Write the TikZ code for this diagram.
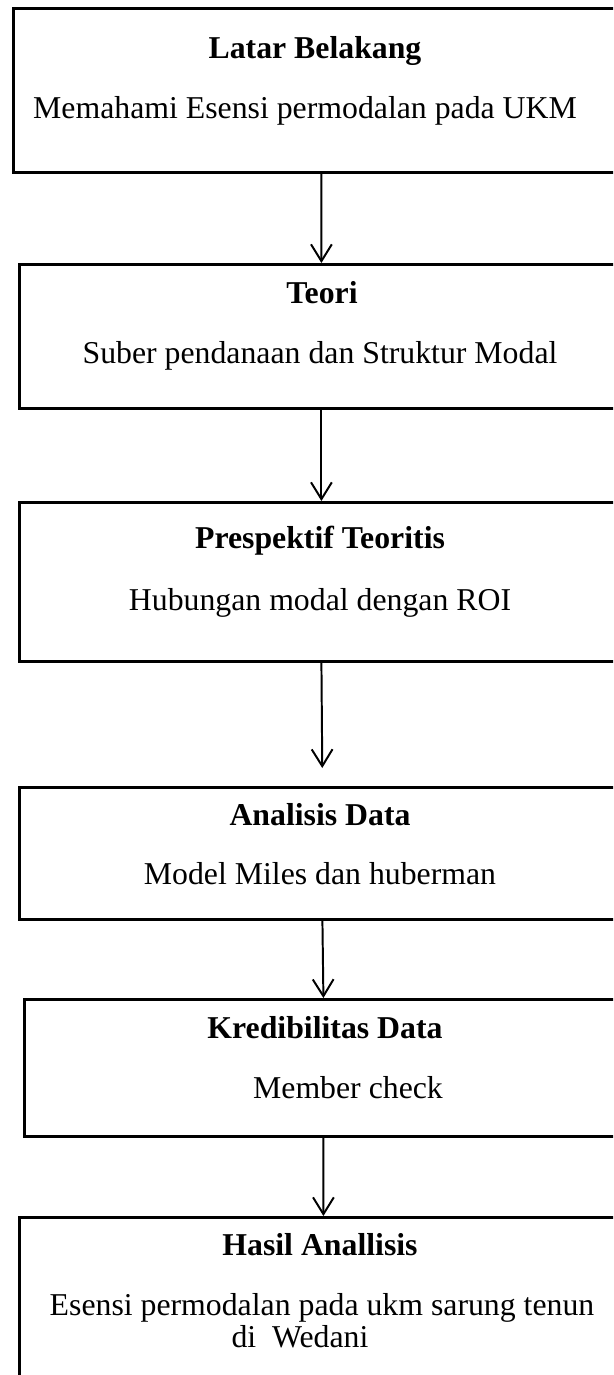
\documentclass[tikz,border=0pt]{standalone}
\usepackage{fontspec}
\setmainfont{Liberation Serif}
\usetikzlibrary{arrows.meta}

\begin{document}
\begin{tikzpicture}[x=0.025cm, y=-0.025cm,
    kotak/.style={draw, line width=1.9pt, rectangle, anchor=north west, inner sep=0pt},
    judul/.style={anchor=base, inner sep=0pt, font=\fontsize{22.6}{26}\selectfont\bfseries},
    isi/.style={anchor=base, inner sep=0pt, font=\fontsize{22.6}{26}\selectfont},
    panah/.style={-{Straight Barb[length=0.42cm, width=0.52cm]}, line width=1.4pt}]
    \useasboundingbox (0,0) rectangle (613,1375);
    \clip (0,0) rectangle (613,1375);

    \node[kotak, minimum width=15.4cm, minimum height=4.1cm] (latar) at (12,7) {};
    \node[kotak, minimum width=15.1cm, minimum height=3.6cm] (teori) at (18,263) {};
    \node[kotak, minimum width=15.1cm, minimum height=3.975cm] (presp) at (18,501) {};
    \node[kotak, minimum width=15.15cm, minimum height=3.3cm] (anal) at (18,786) {};
    \node[kotak, minimum width=14.95cm, minimum height=3.425cm] (kred) at (23,998) {};
    \node[kotak, minimum width=15.2cm, minimum height=4.35cm] (hasil) at (18,1216) {};

    \node[judul] (latarJ) at (315,58) {Latar Belakang};
    \node[isi] (latarI) at (305,118) {Memahami Esensi permodalan pada UKM};
    \node[judul] (teoriJ) at (322,303) {Teori};
    \node[isi] (teoriI) at (320,363) {Suber pendanaan dan Struktur Modal};
    \node[judul] (prespJ) at (320,548) {Prespektif Teoritis};
    \node[isi] (prespI) at (320,610) {Hubungan modal dengan ROI};
    \node[judul] (analJ) at (320,825) {Analisis Data};
    \node[isi] (analI) at (320,884) {Model Miles dan huberman};
    \node[judul] (kredJ) at (325,1038) {Kredibilitas Data};
    \node[isi] (kredI) at (348,1098) {Member check};
    \node[judul] (hasilJ) at (320,1255) {Hasil Anallisis};
    \node[isi] (hasilI) at (322,1315) {Esensi permodalan pada ukm sarung tenun};
    \node[isi] (hasilII) at (300,1347) {di\ \ Wedani};

    \draw[panah] (latar.south) -- (teori.north);
    \draw[panah] (teori.south) -- (presp.north);
    \draw[panah, shorten >=0.45cm] (presp.south) -- (anal.north);
    \draw[panah] (anal.south) -- (kred.north);
    \draw[panah] (kred.south) -- (hasil.north);
\end{tikzpicture}
\end{document}
